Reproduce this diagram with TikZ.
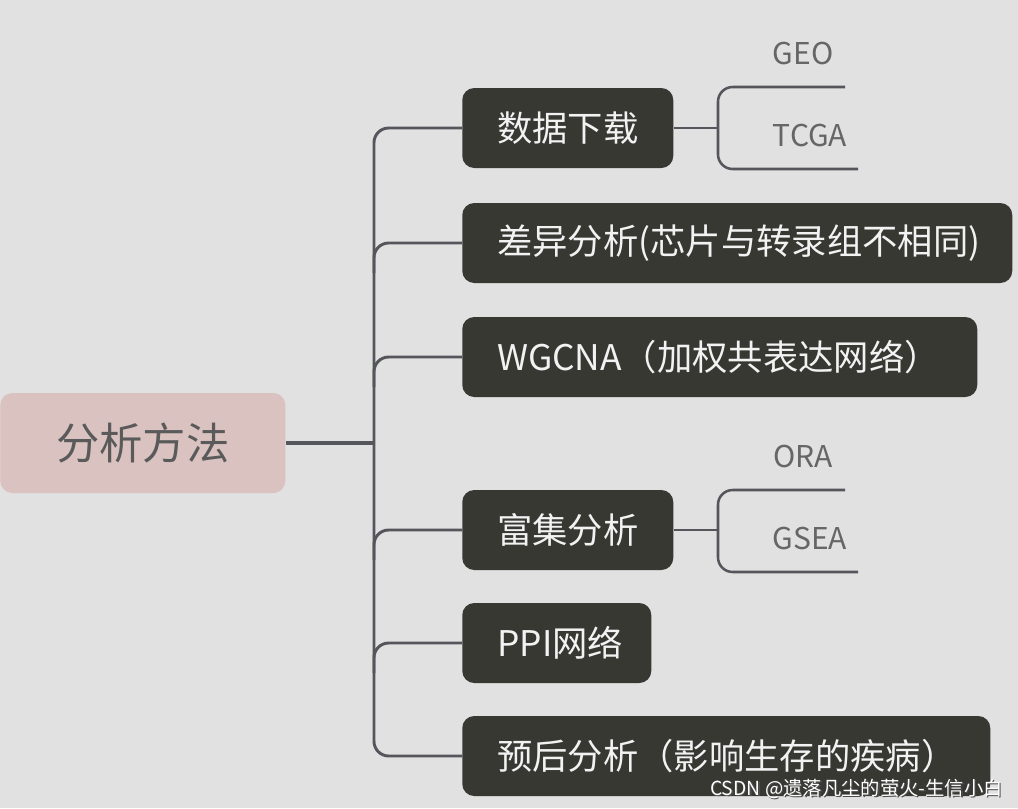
\documentclass[tikz,border=0pt]{standalone}
\usepackage{fontspec}
\setmainfont{Noto Sans CJK SC}
\definecolor{bgc}{HTML}{E1E1E1}
\definecolor{darkbox}{HTML}{383833}
\definecolor{rootfill}{HTML}{D9C2BF}
\definecolor{roottext}{HTML}{5A5A5A}
\definecolor{linec}{HTML}{55565C}
\definecolor{subtext}{HTML}{666666}
\begin{document}
\begin{tikzpicture}[x=0.75pt,y=-0.75pt,
  darkbox/.style={fill=darkbox, rounded corners=9pt, text=white!95!black,
    font=\fontsize{26.5}{30}\selectfont, minimum height=60pt, anchor=west,
    inner ysep=0pt, inner xsep=26.25pt, align=left, text width=#1-52.5pt},
  rootbox/.style={fill=rootfill, rounded corners=9pt, text=roottext,
    font=\fontsize{32.5}{36}\selectfont, minimum height=75pt, minimum width=213.75pt,
    anchor=west, inner sep=0pt},
  trunkline/.style={draw=linec, line width=2.2pt},
  subline/.style={draw=linec, line width=1.9pt},
  sublabel/.style={text=subtext, font=\fontsize{22.5}{26}\selectfont, inner sep=0pt}]
\useasboundingbox (0,0) rectangle (1018,808);
\fill[bgc] (0,0) rectangle (1018,808);

% root
\node[rootbox] (root) at (0,443) {分析方法};

% main branches
\node[darkbox=158.25pt] (n1) at (462,128) {数据下载};
\node[darkbox=412.5pt] (n2) at (462,243) {差异分析(芯片与转录组不相同)};
\node[darkbox=386.25pt] (n3) at (462,357) {WGCNA（加权共表达网络）};
\node[darkbox=158.25pt] (n4) at (462,530) {富集分析};
\node[darkbox=141.75pt] (n5) at (462,643) {PPI网络};
\node[darkbox=396pt] (n6) at (462,756) {预后分析（影响生存的疾病）};

% trunk coordinates
\coordinate (tj) at (374,443);
\coordinate (ttop) at (374,128);
\coordinate (tbot) at (374,756);

\draw[draw=linec, line width=3pt] (root.east) -- (tj);
\draw[trunkline, rounded corners=11pt] (tj) -- (ttop) -- (n1.west);
\draw[trunkline, rounded corners=11pt] (tj) -- (tbot) -- (n6.west);
\draw[trunkline, rounded corners=11pt] (374,273) -- (374,243) -- (n2.west);
\draw[trunkline, rounded corners=11pt] (374,387) -- (374,357) -- (n3.west);
\draw[trunkline, rounded corners=11pt] (374,560) -- (374,530) -- (n4.west);
\draw[trunkline, rounded corners=11pt] (374,673) -- (374,643) -- (n5.west);

% sub branches of n1
\coordinate (geoend) at (845,87);
\coordinate (tcgaend) at (858,169);
\coordinate (b1) at (718,128);
\draw[subline] (n1.east) -- (b1);
\draw[subline, rounded corners=11pt] (geoend) -- (718,87) -- (718,169) -- (tcgaend);
\node[sublabel] (geo) at (803,53) {GEO};
\node[sublabel] (tcga) at (810,135) {TCGA};

% sub branches of n4
\coordinate (oraend) at (845,490);
\coordinate (gseaend) at (858,572);
\coordinate (b4) at (718,530);
\draw[subline] (n4.east) -- (b4);
\draw[subline, rounded corners=11pt] (oraend) -- (718,490) -- (718,572) -- (gseaend);
\node[sublabel] (ora) at (803,456) {ORA};
\node[sublabel] (gsea) at (810,538) {GSEA};

% watermark
\node[anchor=east, inner sep=0pt, text=black!70, font=\fontsize{14.5}{16}\selectfont] (wmshadow) at (1004.5,790.5) {CSDN @遗落凡尘的萤火-生信小白};
\node[anchor=east, inner sep=0pt, text=white, font=\fontsize{14.5}{16}\selectfont] (wm) at (1003,789) {CSDN @遗落凡尘的萤火-生信小白};
\end{tikzpicture}
\end{document}
